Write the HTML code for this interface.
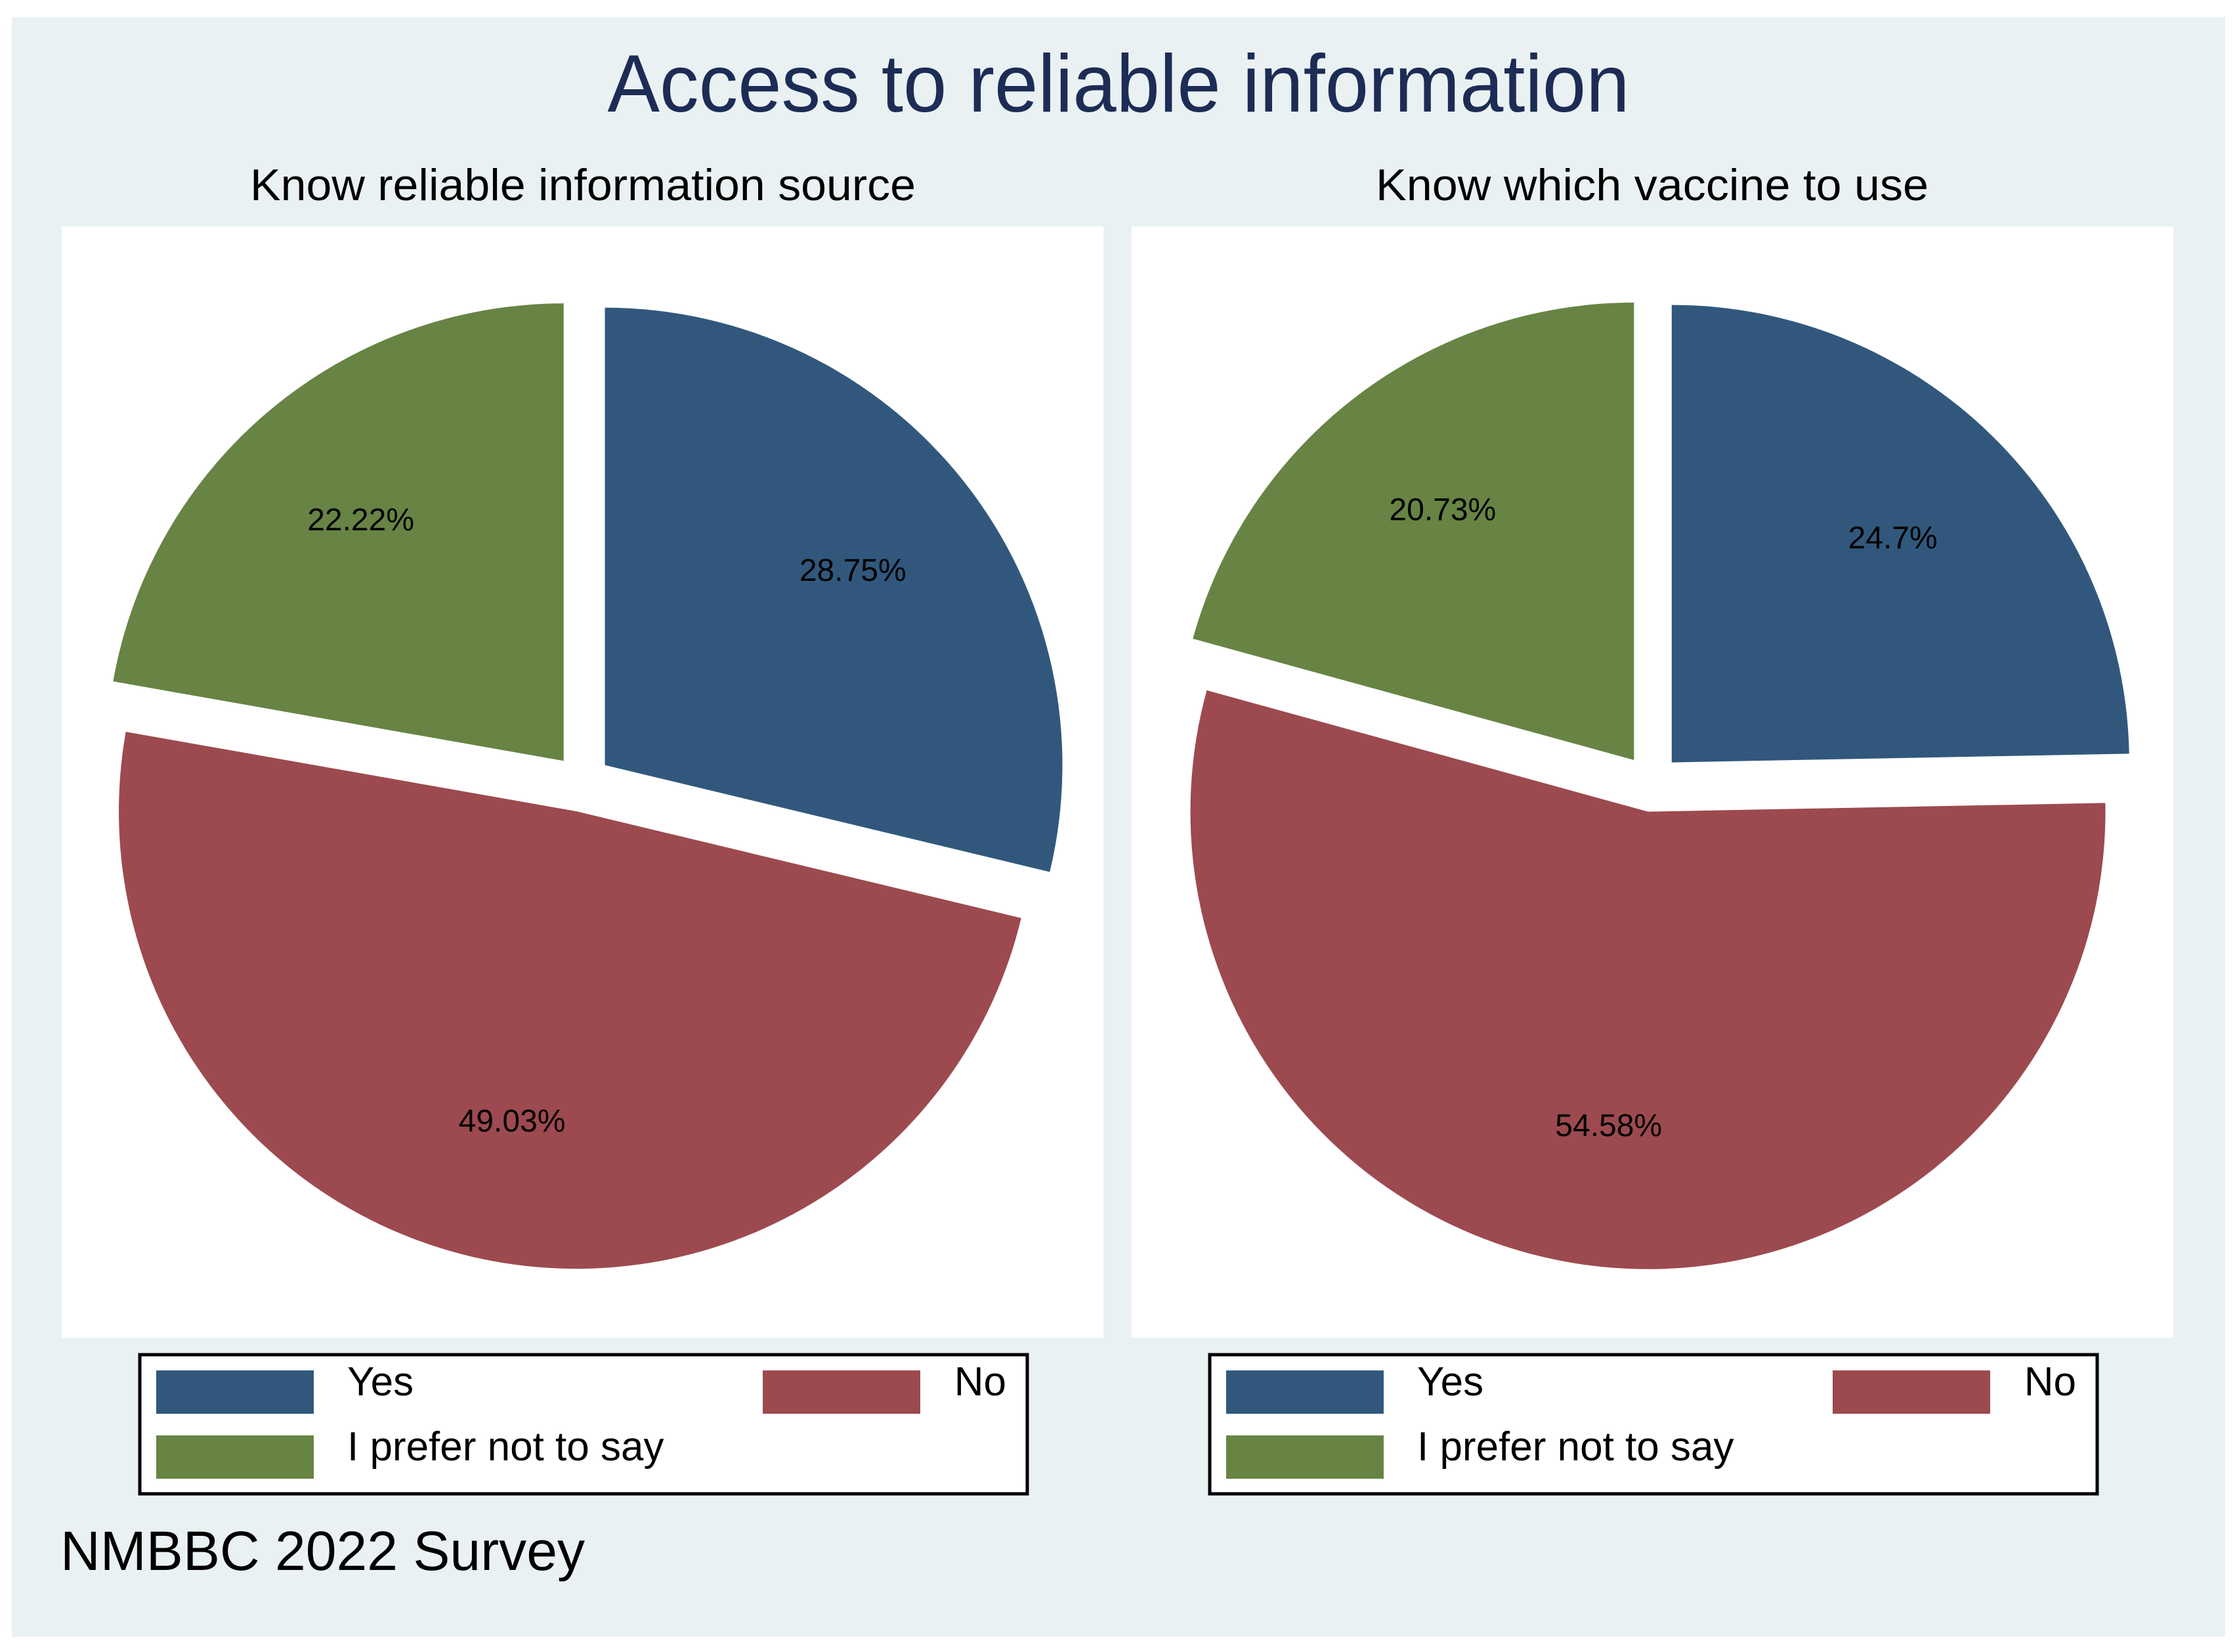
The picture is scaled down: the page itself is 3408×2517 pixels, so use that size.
<!DOCTYPE html>
<html><head><meta charset="utf-8"><style>
html,body{margin:0;padding:0;background:#fff;}
svg{display:block;font-family:"Liberation Sans",Arial,sans-serif;}
</style></head><body>
<svg id="chart" width="3408" height="2517" viewBox="0 0 3408 2517" xmlns="http://www.w3.org/2000/svg">
<rect x="0" y="0" width="3408" height="2517" fill="#ffffff"/>
<rect x="18" y="26" width="3372" height="2468" fill="#eaf1f3"/>
<text x="1704" y="170" font-size="124" fill="#1c2c55" text-anchor="middle" textLength="1557" lengthAdjust="spacingAndGlyphs">Access to reliable information</text>
<text x="888" y="305" font-size="68" fill="#000" text-anchor="middle" textLength="1014" lengthAdjust="spacingAndGlyphs">Know reliable information source</text>
<text x="2517" y="305" font-size="68" fill="#000" text-anchor="middle" textLength="842" lengthAdjust="spacingAndGlyphs">Know which vaccine to use</text>
<rect x="94" y="345" width="1587" height="1693" fill="#fff"/>
<rect x="1724" y="345" width="1587" height="1693" fill="#fff"/>
<g id="pies"></g>
<g id="legends"></g>
<text x="92" y="2392" font-size="84" fill="#000" textLength="799" lengthAdjust="spacingAndGlyphs">NMBBC 2022 Survey</text>
</svg>
<script>
const categories = ["Yes", "No", "I prefer not to say"];
const sourceValues = [28.75, 49.03, 22.22];
const vaccineValues = [24.7, 54.58, 20.73];
const valueLabels1 = ["28.75%", "49.03%", "22.22%"];
const valueLabels2 = ["24.7%", "54.58%", "20.73%"];
const colors = ["#31587c", "#9c4a4f", "#678444"];
const NS = "http://www.w3.org/2000/svg";
const R = 697, OFF = 44, LBL = 0.69;

function drawPie(cx, cy, values, labels, key) {
  const g = document.getElementById('pies');
  const total = values.reduce((a, b) => a + b, 0);
  let start = 90;
  values.forEach((v, i) => {
    const sweep = v / total * 360;
    const end = start - sweep;
    const mid = (start + end) / 2 * Math.PI / 180;
    const vx = cx + OFF * Math.cos(mid), vy = cy - OFF * Math.sin(mid);
    const a0 = start * Math.PI / 180, a1 = end * Math.PI / 180;
    const x0 = vx + R * Math.cos(a0), y0 = vy - R * Math.sin(a0);
    const x1 = vx + R * Math.cos(a1), y1 = vy - R * Math.sin(a1);
    const large = sweep > 180 ? 1 : 0;
    const p = document.createElementNS(NS, 'path');
    p.setAttribute('d', `M${vx},${vy} L${x0},${y0} A${R},${R} 0 ${large} 1 ${x1},${y1} Z`);
    p.setAttribute('fill', colors[i]);
    
    
    g.appendChild(p);
    const t = document.createElementNS(NS, 'text');
    t.setAttribute('x', vx + LBL * R * Math.cos(mid));
    t.setAttribute('y', vy - LBL * R * Math.sin(mid) + 17);
    t.setAttribute('text-anchor', 'middle');
    t.setAttribute('font-size', '48');
    t.setAttribute('fill', '#000');
    t.textContent = labels[i];
    
    
    g.appendChild(t);
    start = end;
  });
}
drawPie(887, 1193, sourceValues, valueLabels1, 'left');
drawPie(2516, 1193, vaccineValues, valueLabels2, 'right');

function drawLegend(dx) {
  const g = document.getElementById('legends');
  const box = document.createElementNS(NS, 'rect');
  box.setAttribute('x', 213 + dx); box.setAttribute('y', 2064);
  box.setAttribute('width', 1352); box.setAttribute('height', 212);
  box.setAttribute('fill', '#fff'); box.setAttribute('stroke', '#000'); box.setAttribute('stroke-width', '5');
  
  
  g.appendChild(box);
  const sw = [[238, 2088], [1162, 2088], [238, 2187]];
  const tx = [[529, 2126, 'start'], [1533, 2126, 'end'], [529, 2225, 'start']];
  categories.forEach((c, i) => {
    const r = document.createElementNS(NS, 'rect');
    r.setAttribute('x', sw[i][0] + dx); r.setAttribute('y', sw[i][1]);
    r.setAttribute('width', 240); r.setAttribute('height', 66);
    r.setAttribute('fill', colors[i]);
    
    
    g.appendChild(r);
    const t = document.createElementNS(NS, 'text');
    t.setAttribute('x', tx[i][0] + dx); t.setAttribute('y', tx[i][1]);
    t.setAttribute('text-anchor', tx[i][2]);
    t.setAttribute('font-size', '62');
    t.setAttribute('fill', '#000');
    t.textContent = c;
    
    
    g.appendChild(t);
  });
}
drawLegend(0);
drawLegend(1630);
</script>
</body></html>
